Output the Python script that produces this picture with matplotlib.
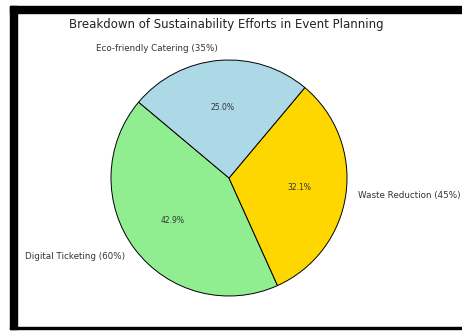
import matplotlib.pyplot as plt
from matplotlib.patches import Rectangle

# 데이터
labels = ['Digital Ticketing (60%)', 'Waste Reduction (45%)', 'Eco-friendly Catering (35%)']
values = [60, 45, 35]
colors = ['lightgreen', 'gold', 'lightblue']

W, H = 462, 331
fig = plt.figure(figsize=(W / 100, H / 100), dpi=100)
fig.patch.set_facecolor('white')

# 스크린샷 테두리 (검은 틀)
fig.patches.append(Rectangle((10 / W, (H - 329) / H), 7 / W, 323 / H,
                             transform=fig.transFigure, color='black', zorder=0))
fig.patches.append(Rectangle((10 / W, (H - 13) / H), (W - 10) / W, 7 / H,
                             transform=fig.transFigure, color='black', zorder=0))
fig.patches.append(Rectangle((10 / W, (H - 329) / H), (W - 10) / W, 2 / H,
                             transform=fig.transFigure, color='black', zorder=0))

# 파이 차트
cx, cy, r = 229, H - 178, 118
ax = fig.add_axes([(cx - r) / W, (cy - r) / H, 2 * r / W, 2 * r / H])
wedges, texts, autotexts = ax.pie(values, labels=labels, colors=colors, autopct='%1.1f%%',
                                  startangle=140, wedgeprops={'edgecolor': 'black', 'linewidth': 0.7},
                                  textprops={'fontsize': 6.3, 'color': '#333333'})
for t in autotexts:
    t.set_fontsize(5.5)
ax.set_xlim(-1, 1)
ax.set_ylim(-1, 1)
ax.set_aspect('equal')

fig.text(226.5 / W, 1 - 24.5 / H, 'Breakdown of Sustainability Efforts in Event Planning',
         ha='center', va='center', fontsize=8.45, color='#222222')

fig.savefig('out.png', dpi=100)
